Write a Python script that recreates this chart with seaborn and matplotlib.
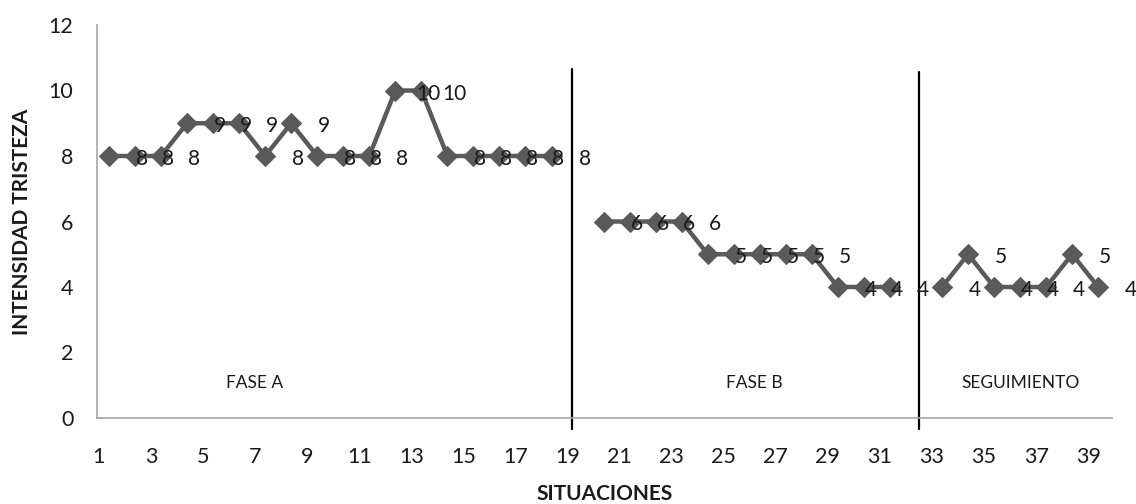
import matplotlib
matplotlib.use("Agg")
import matplotlib.pyplot as plt
import matplotlib.transforms as mtransforms
import seaborn as sns
import pandas as pd

# ---- data ----
fase_a = [8, 8, 8, 9, 9, 9, 8, 9, 8, 8, 8, 10, 10, 8, 8, 8, 8, 8]
fase_a_x = list(range(1, 19))
fase_b = [6, 6, 6, 6, 5, 5, 5, 5, 5, 4, 4, 4]
fase_b_x = list(range(20, 32))
seguimiento = [4, 5, 4, 4, 4, 5, 4]
seguimiento_x = list(range(33, 40))
x_tick_labels = list(range(1, 40, 2))
y_ticks = [0, 2, 4, 6, 8, 10, 12]
phase_names = ["FASE A", "FASE B", "SEGUIMIENTO"]
phase_label_x = [6.6, 25.8, 36.0]
phase_breaks = [18.8, 32.1]

sns.set_theme(style="white")
plt.rcParams["font.family"] = ["Lato", "DejaVu Sans"]

df = pd.DataFrame({
    "situacion": fase_a_x + fase_b_x + seguimiento_x,
    "intensidad": fase_a + fase_b + seguimiento,
    "fase": (["A"] * len(fase_a)) + (["B"] * len(fase_b)) + (["S"] * len(seguimiento)),
})

gray = "#5a5a5a"
text_color = "#1a1a1a"

fig = plt.figure(figsize=(11.36, 5.04), dpi=100)
ax = fig.add_axes([97 / 1136, 1 - 418 / 504, (1112 - 97) / 1136, (418 - 25) / 504])

sns.lineplot(data=df, x="situacion", y="intensidad", hue="fase",
             palette=[gray, gray, gray], marker="D", markersize=10,
             markeredgecolor=gray, linewidth=3.2, legend=False, ax=ax)

# data labels
for xv, yv in zip(df["situacion"], df["intensidad"]):
    ax.annotate(str(yv), (xv, yv), xytext=(33, -3), textcoords="offset pixels",
                ha="center", va="center", fontsize=15, color=text_color,
                annotation_clip=False)

ax.set_xlim(0.54, 39.53)
ax.set_ylim(0, 12)
ax.set_yticks(y_ticks)
ax.set_yticklabels([str(t) for t in y_ticks])
ax.set_xticks(x_tick_labels)
ax.set_xticklabels([str(t) for t in x_tick_labels])
ax.tick_params(axis="x", length=0, pad=21, labelsize=15.5, labelcolor=text_color)
ax.tick_params(axis="y", length=0, pad=17, labelsize=15.5, labelcolor=text_color)
offset = mtransforms.ScaledTranslation(-10 / 100, 0, fig.dpi_scale_trans)
for lab in ax.get_xticklabels():
    lab.set_transform(lab.get_transform() + offset)

for side in ["top", "right"]:
    ax.spines[side].set_visible(False)
for side in ["left", "bottom"]:
    ax.spines[side].set_color("#a6a6a6")
    ax.spines[side].set_linewidth(1.2)
ax.grid(False)

# phase divider lines
trans = mtransforms.blended_transform_factory(ax.transData, ax.transAxes)
for xb, top in zip(phase_breaks, [0.888, 0.880]):
    ax.plot([xb, xb], [-0.027, top], color="black", linewidth=1.6,
            transform=trans, clip_on=False)

# phase labels
for name, xp in zip(phase_names, phase_label_x):
    ax.text(xp, 1.07, name, ha="center", va="center", fontsize=12.5,
            color=text_color)

ax.set_xlabel("SITUACIONES", fontsize=15, fontweight="bold", color=text_color, va="center")
ax.set_ylabel("INTENSIDAD TRISTEZA", fontsize=15, fontweight="bold", color=text_color, va="center")
ax.xaxis.set_label_coords(0.5, -0.193)
ax.yaxis.set_label_coords(-0.074, 0.5)

fig.savefig("out.png", dpi=100, facecolor="white")
